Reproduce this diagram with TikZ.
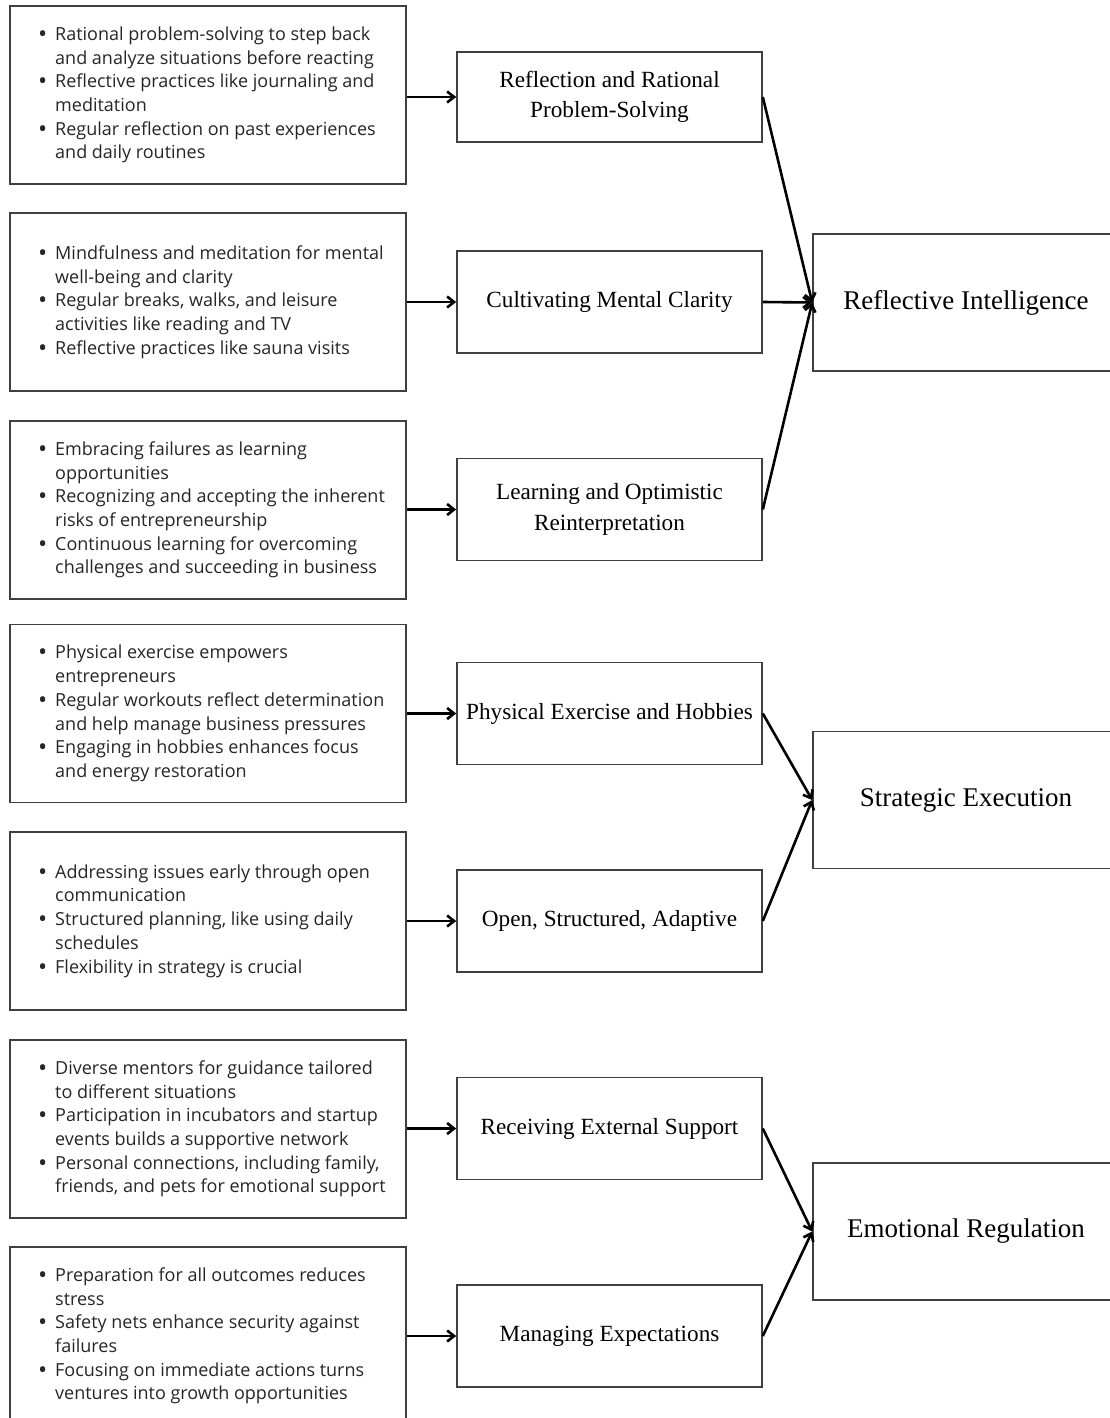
\documentclass[tikz,border=0pt]{standalone}
\usepackage{fontspec}
\usepackage{graphicx}
\setmainfont{Liberation Serif}
\newfontfamily\leftfont{Open Sans}
\usetikzlibrary{arrows.meta}
\newcommand\mybul{\makebox[18pt][l]{\hspace*{1pt}\raisebox{-2pt}{\scalebox{1.35}{\textbullet}}}}
\newcommand\myind{\hspace*{18pt}}
\begin{document}
\begin{tikzpicture}[x=1pt,y=-1pt,
 box/.style={draw=black!75, line width=1.6pt, rectangle, inner sep=0pt, fill=white},
 lbox/.style={box, minimum width=396pt, minimum height=178pt},
 mbox/.style={box, minimum width=305pt, minimum height=102pt, align=center, font=\fontsize{23.2}{30.5}\selectfont},
 rbox/.style={box, minimum width=306pt, minimum height=137pt, font=\fontsize{27}{30}\selectfont},
 ltext/.style={anchor=west, inner sep=0pt, align=left, text=black!85, font=\leftfont\fontsize{18}{23.7}\selectfont},
 arr/.style={-{Straight Barb[length=7pt,width=11pt]}, line width=2.6pt}]
\useasboundingbox (0,0) rectangle (1110,1418);
\clip (0,0) rectangle (1110,1418);
\fill[white] (0,0) rectangle (1110,1418);

% left boxes
\node[lbox] (l1) at (208,95) {};
\node[lbox] (l2) at (208,302) {};
\node[lbox] (l3) at (208,510) {};
\node[lbox] (l4) at (208,713.5) {};
\node[lbox] (l5) at (208,921) {};
\node[lbox] (l6) at (208,1129) {};
\node[lbox] (l7) at (208,1336) {};

\node[ltext] (t1) at (37,95) {\mybul Rational problem-solving to step back\\ \myind and analyze situations before reacting\\ \mybul Reflective practices like journaling and\\ \myind meditation\\ \mybul Regular reflection on past experiences\\ \myind and daily routines};
\node[ltext] (t2) at (37,302) {\mybul Mindfulness and meditation for mental\\ \myind well-being and clarity\\ \mybul Regular breaks, walks, and leisure\\ \myind activities like reading and TV\\ \mybul Reflective practices like sauna visits};
\node[ltext] (t3) at (37,510) {\mybul Embracing failures as learning\\ \myind opportunities\\ \mybul Recognizing and accepting the inherent\\ \myind risks of entrepreneurship\\ \mybul Continuous learning for overcoming\\ \myind challenges and succeeding in business};
\node[ltext] (t4) at (37,713.5) {\mybul Physical exercise empowers\\ \myind entrepreneurs\\ \mybul Regular workouts reflect determination\\ \myind and help manage business pressures\\ \mybul Engaging in hobbies enhances focus\\ \myind and energy restoration};
\node[ltext] (t5) at (37,921) {\mybul Addressing issues early through open\\ \myind communication\\ \mybul Structured planning, like using daily\\ \myind schedules\\ \mybul Flexibility in strategy is crucial};
\node[ltext] (t6) at (37,1129) {\mybul Diverse mentors for guidance tailored\\ \myind to different situations\\ \mybul Participation in incubators and startup\\ \myind events builds a supportive network\\ \mybul Personal connections, including family,\\ \myind friends, and pets for emotional support};
\node[ltext] (t7) at (37,1336) {\mybul Preparation for all outcomes reduces\\ \myind stress\\ \mybul Safety nets enhance security against\\ \myind failures\\ \mybul Focusing on immediate actions turns\\ \myind ventures into growth opportunities};

% middle boxes
\node[mbox, minimum height=90pt] (m1) at (609.5,97) {Reflection and Rational\\Problem-Solving};
\node[mbox] (m2) at (609.5,302) {Cultivating Mental Clarity};
\node[mbox] (m3) at (609.5,509.5) {Learning and Optimistic\\Reinterpretation};
\node[mbox] (m4) at (609.5,713.5) {Physical Exercise and Hobbies};
\node[mbox] (m5) at (609.5,921) {Open, Structured, Adaptive};
\node[mbox] (m6) at (609.5,1128.5) {Receiving External Support};
\node[mbox] (m7) at (609.5,1336) {Managing Expectations};

% right boxes
\node[rbox] (r1) at (966,302.5) {Reflective Intelligence};
\node[rbox] (r2) at (966,800) {Strategic Execution};
\node[rbox] (r3) at (966,1231.5) {Emotional Regulation};

% arrows left -> middle
\foreach \i in {1,...,7}{
  \draw[arr] (l\i.east |- m\i.west) -- (m\i.west);
}
% arrows middle -> right
\draw[arr] (m1.east) -- (r1.west);
\draw[arr] (m2.east) -- (r1.west);
\draw[arr] (m3.east) -- (r1.west);
\draw[arr] (m4.east) -- (r2.west);
\draw[arr] (m5.east) -- (r2.west);
\draw[arr] (m6.east) -- (r3.west);
\draw[arr] (m7.east) -- (r3.west);
\end{tikzpicture}
\end{document}
